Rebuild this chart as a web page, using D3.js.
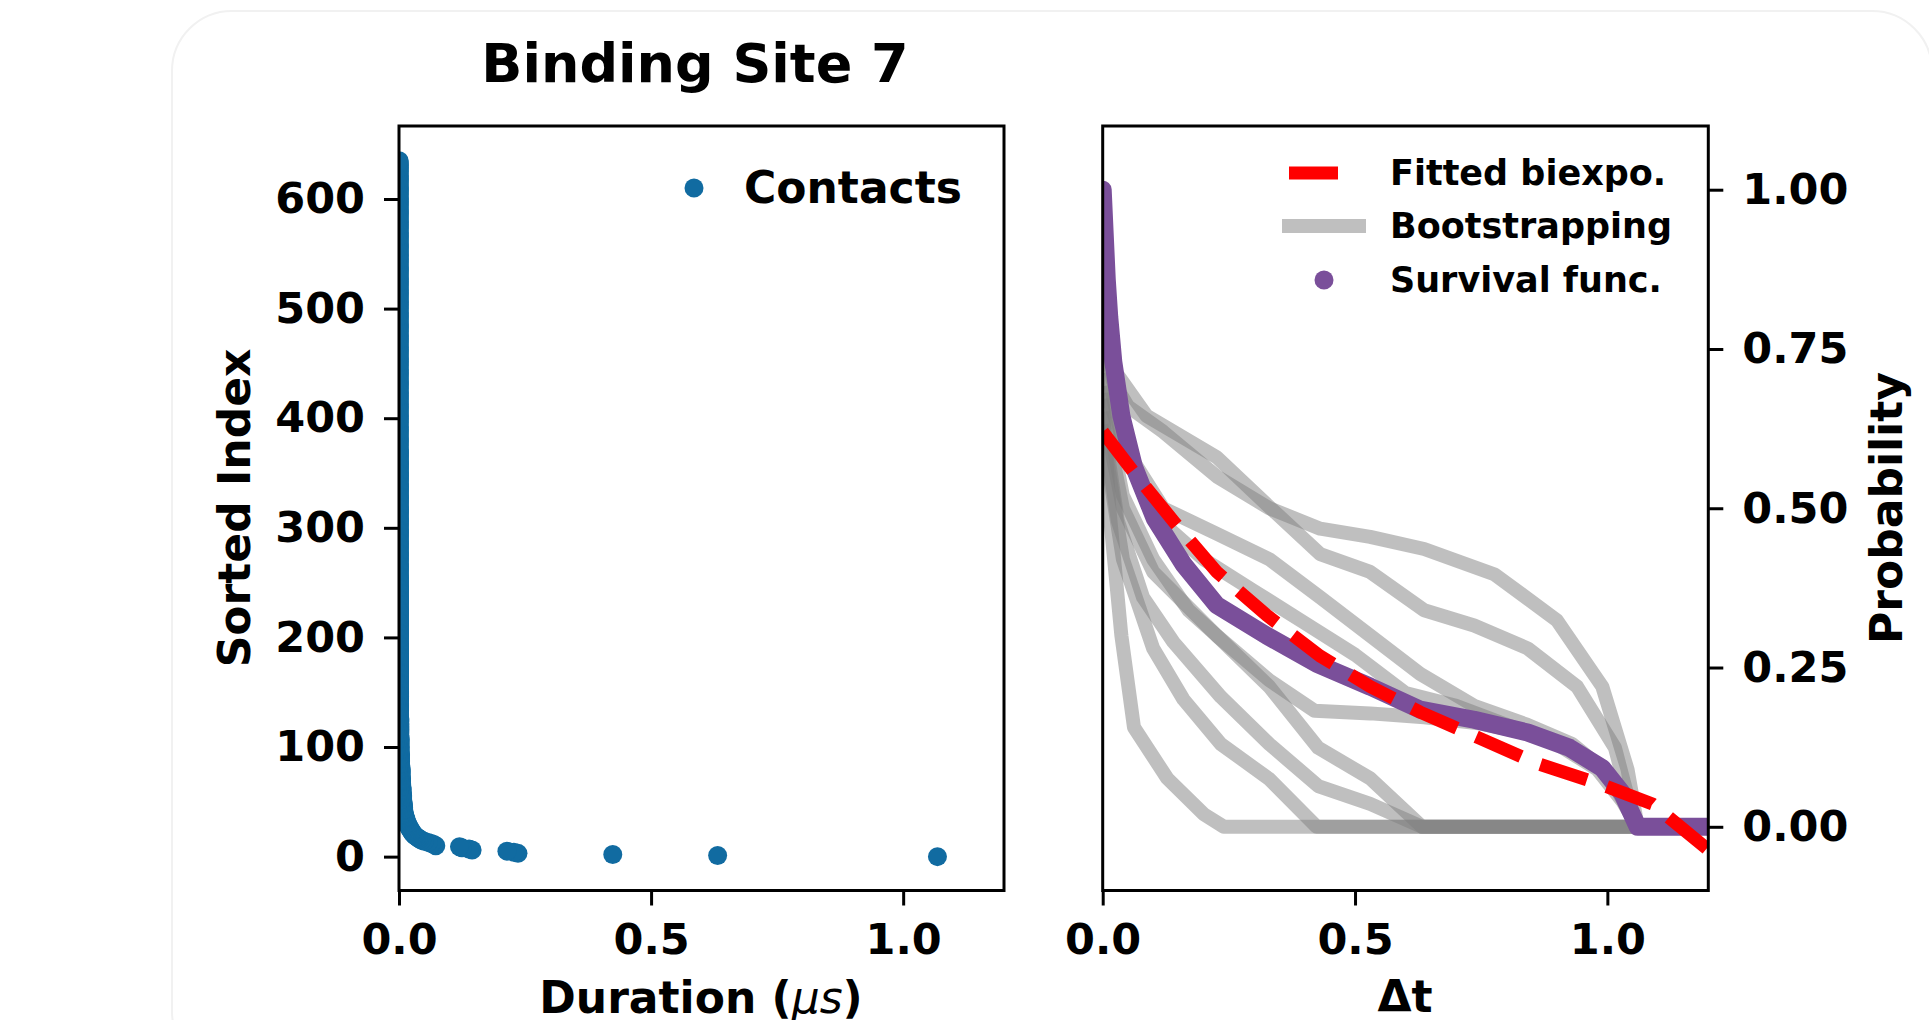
<!DOCTYPE html>
<html>
<head>
<meta charset="utf-8">
<script src="https://cdn.jsdelivr.net/npm/d3@7"></script>
<style>
  body { margin: 0; background: #ffffff; }
  text { font-family: "DejaVu Sans", sans-serif; font-weight: bold; fill: #000; }
</style>
</head>
<body>
<script>
// ---- data ----
// contact durations (us), largest first -> sorted index 0 at the bottom
var tailDurations = [1.068, 0.632, 0.424, 0.236, 0.228, 0.214, 0.145, 0.139, 0.125, 0.120,
  0.073, 0.069, 0.064, 0.058, 0.050, 0.045, 0.041, 0.038, 0.035, 0.032,
  0.030, 0.028, 0.026, 0.025, 0.024, 0.022, 0.021, 0.020, 0.019, 0.018];
// the short contacts, as value / how many of them
var bulkValues = [0.016, 0.014, 0.012, 0.010, 0.009, 0.008, 0.007, 0.006, 0.005, 0.004,
  0.003, 0.002, 0.0015, 0.001, 0.0008, 0.0006, 0.0004, 0.0002];
var bulkCounts = [2, 3, 3, 4, 4, 5, 6, 7, 8, 10, 12, 15, 18, 25, 40, 60, 120, 264];

// survival function (purple)
var survX = [0, 0.004, 0.008, 0.013, 0.021, 0.037, 0.062, 0.103, 0.160, 0.226, 0.325, 0.424,
  0.530, 0.629, 0.736, 0.842, 0.925, 0.990, 1.030, 1.060, 1.200];
var survY = [1.0, 0.93, 0.86, 0.80, 0.73, 0.645, 0.565, 0.484, 0.412, 0.348, 0.300, 0.256,
  0.220, 0.184, 0.168, 0.148, 0.124, 0.092, 0.052, 0.0, 0.0];

// fitted biexponential (red dashed)
var fitX = [0, 0.062, 0.144, 0.226, 0.325, 0.431, 0.530, 0.629, 0.744, 0.859, 0.982, 1.089, 1.200];
var fitY = [0.62, 0.556, 0.476, 0.400, 0.332, 0.268, 0.220, 0.180, 0.140, 0.100, 0.068, 0.036, -0.036];

// bootstrapped survival functions (gray)
var bootX = [
  [0, 0.02, 0.05, 0.12, 0.226, 0.33, 0.431, 0.53, 0.637, 0.777, 0.90, 0.99, 1.04, 1.06, 1.2],
  [0, 0.02, 0.087, 0.226, 0.333, 0.431, 0.53, 0.637, 0.736, 0.842, 0.94, 1.015, 1.056, 1.2],
  [0, 0.04, 0.12, 0.226, 0.33, 0.431, 0.53, 0.629, 0.736, 0.842, 0.93, 1.0, 1.06, 1.2],
  [0, 0.05, 0.10, 0.20, 0.30, 0.40, 0.50, 0.60, 0.70, 0.80, 0.90, 0.98, 1.03, 1.06, 1.2],
  [0, 0.04, 0.10, 0.17, 0.226, 0.33, 0.42, 0.53, 0.637, 0.75, 0.85, 0.93, 1.0, 1.04, 1.06, 1.2],
  [0, 0.04, 0.10, 0.226, 0.33, 0.427, 0.53, 0.633, 1.2],
  [0, 0.03, 0.08, 0.14, 0.234, 0.33, 0.427, 0.53, 0.633, 1.2],
  [0, 0.04, 0.10, 0.16, 0.234, 0.33, 0.424, 1.2],
  [0, 0.013, 0.037, 0.062, 0.128, 0.20, 0.24, 1.2]
];
var bootY = [
  [0.80, 0.70, 0.66, 0.62, 0.55, 0.50, 0.468, 0.455, 0.436, 0.396, 0.324, 0.22, 0.09, 0.0, 0.0],
  [0.85, 0.72, 0.645, 0.58, 0.50, 0.428, 0.40, 0.34, 0.316, 0.28, 0.22, 0.124, 0.0, 0.0],
  [0.75, 0.60, 0.50, 0.46, 0.42, 0.36, 0.30, 0.24, 0.19, 0.16, 0.13, 0.085, 0.0, 0.0],
  [0.70, 0.58, 0.49, 0.42, 0.37, 0.32, 0.27, 0.21, 0.19, 0.16, 0.13, 0.09, 0.04, 0.0, 0.0],
  [0.68, 0.52, 0.42, 0.34, 0.30, 0.23, 0.182, 0.178, 0.172, 0.162, 0.145, 0.12, 0.085, 0.04, 0.0, 0.0],
  [0.66, 0.50, 0.40, 0.30, 0.22, 0.124, 0.076, 0.0, 0.0],
  [0.64, 0.48, 0.36, 0.29, 0.204, 0.13, 0.064, 0.036, 0.0, 0.0],
  [0.62, 0.42, 0.28, 0.20, 0.13, 0.075, 0.0, 0.0],
  [0.67, 0.50, 0.30, 0.156, 0.076, 0.02, 0.0, 0.0]
];

// ---- layout ----
var W = 1929, H = 1020;
var plotTop = 126, plotBottom = 890.5;
var leftX0 = 399, leftX1 = 1004;
var rightX0 = 1102.7, rightX1 = 1708.3;
var tickFont = 43, labelFont = 44;
var blue = '#116ba1', purple = '#7a4f9a';

var svg = d3.select('body').append('svg')
  .attr('width', W)
  .attr('height', H);

// faint rounded frame round the figure
svg.append('rect')
  .attr('x', 172).attr('y', 11)
  .attr('width', 1760).attr('height', 1060)
  .attr('rx', 60)
  .style('fill', 'none')
  .style('stroke', '#f1f1f1')
  .style('stroke-width', 2);

var defs = svg.append('defs');
defs.append('clipPath').attr('id', 'clipL').append('rect')
  .attr('x', leftX0).attr('y', plotTop)
  .attr('width', leftX1 - leftX0).attr('height', plotBottom - plotTop);
defs.append('clipPath').attr('id', 'clipR').append('rect')
  .attr('x', rightX0).attr('y', plotTop)
  .attr('width', rightX1 - rightX0).attr('height', plotBottom - plotTop);

// ---- left panel: sorted contacts ----
var durations = tailDurations.slice();
bulkValues.forEach(function(v, i) {
  for (var k = 0; k < bulkCounts[i]; k++) durations.push(v);
});

var xL = d3.scaleLinear().domain([0, 1.2]).range([leftX0, leftX1]);
var yL = d3.scaleLinear().domain([-30.9, 666.6]).range([plotBottom, plotTop]);

svg.append('g')
  .attr('clip-path', 'url(#clipL)')
  .selectAll('circle')
  .data(durations)
  .enter()
  .append('circle')
    .attr('cx', function(d) { return xL(d); })
    .attr('cy', function(d, i) { return yL(i); })
    .attr('r', 9.5)
    .style('fill', blue);

// ---- right panel: survival ----
var xR = d3.scaleLinear().domain([0, 1.2]).range([rightX0, rightX1]);
var yR = d3.scaleLinear().domain([-0.1, 1.1]).range([plotBottom, plotTop]);
var lineR = d3.line()
  .x(function(d) { return xR(d[0]); })
  .y(function(d) { return yR(d[1]); });

var gR = svg.append('g').attr('clip-path', 'url(#clipR)');

gR.selectAll('path.boot')
  .data(bootX.map(function(xs, j) { return xs.map(function(x, i) { return [x, bootY[j][i]]; }); }))
  .enter()
  .append('path')
    .attr('class', 'boot')
    .attr('d', lineR)
    .style('fill', 'none')
    .style('stroke', '#808080')
    .style('stroke-opacity', 0.5)
    .style('stroke-width', 14)
    .style('stroke-linejoin', 'round')
    .style('stroke-linecap', 'square');

gR.append('path')
  .datum(survX.map(function(x, i) { return [x, survY[i]]; }))
  .attr('d', lineR)
  .style('fill', 'none')
  .style('stroke', purple)
  .style('stroke-width', 18)
  .style('stroke-linejoin', 'round')
  .style('stroke-linecap', 'round');

gR.append('path')
  .datum(fitX.map(function(x, i) { return [x, fitY[i]]; }))
  .attr('d', lineR)
  .style('fill', 'none')
  .style('stroke', 'red')
  .style('stroke-width', 13)
  .style('stroke-dasharray', '49,21');

// ---- frames and axes ----
[[leftX0, leftX1], [rightX0, rightX1]].forEach(function(p) {
  svg.append('rect')
    .attr('x', p[0]).attr('y', plotTop)
    .attr('width', p[1] - p[0]).attr('height', plotBottom - plotTop)
    .style('fill', 'none')
    .style('stroke', '#000')
    .style('stroke-width', 3);
});

function styleAxis(g) {
  g.select('.domain').remove();
  g.selectAll('.tick line').style('stroke', '#000').style('stroke-width', 3);
  g.selectAll('.tick text')
    .style('font-family', '"DejaVu Sans", sans-serif')
    .style('font-weight', 'bold')
    .style('font-size', tickFont + 'px')
    .style('fill', '#000');
}

svg.append('g')
  .attr('transform', 'translate(' + leftX0 + ',0)')
  .call(d3.axisLeft(yL).tickValues([0, 100, 200, 300, 400, 500, 600])
    .tickFormat(d3.format('d')).tickSize(15).tickPadding(19))
  .call(styleAxis);

svg.append('g')
  .attr('transform', 'translate(0,' + plotBottom + ')')
  .call(d3.axisBottom(xL).tickValues([0, 0.5, 1.0])
    .tickFormat(d3.format('.1f')).tickSize(15).tickPadding(18))
  .call(styleAxis);

svg.append('g')
  .attr('transform', 'translate(0,' + plotBottom + ')')
  .call(d3.axisBottom(xR).tickValues([0, 0.5, 1.0])
    .tickFormat(d3.format('.1f')).tickSize(15).tickPadding(18))
  .call(styleAxis);

svg.append('g')
  .attr('transform', 'translate(' + rightX1 + ',0)')
  .call(d3.axisRight(yR).tickValues([0, 0.25, 0.5, 0.75, 1.0])
    .tickFormat(d3.format('.2f')).tickSize(15).tickPadding(19))
  .call(styleAxis);

// ---- texts ----
svg.append('text')
  .attr('x', 695).attr('y', 82)
  .attr('text-anchor', 'middle')
  .style('font-size', '54px')
  .text('Binding Site 7');

svg.append('text')
  .attr('transform', 'translate(250,508) rotate(-90)')
  .attr('text-anchor', 'middle')
  .style('font-size', labelFont + 'px')
  .text('Sorted Index');

svg.append('text')
  .attr('transform', 'translate(1902,508) rotate(-90)')
  .attr('text-anchor', 'middle')
  .style('font-size', labelFont + 'px')
  .text('Probability');

var dur = svg.append('text')
  .attr('x', 701).attr('y', 1013)
  .attr('text-anchor', 'middle')
  .style('font-size', labelFont + 'px');
dur.append('tspan').text('Duration (');
dur.append('tspan').style('font-style', 'italic').style('font-weight', 'normal').text('\u03bcs');
dur.append('tspan').text(')');

svg.append('text')
  .attr('x', 1405).attr('y', 1012)
  .attr('text-anchor', 'middle')
  .style('font-size', labelFont + 'px')
  .text('\u0394t');

// ---- legends ----
svg.append('circle').attr('cx', 694).attr('cy', 188).attr('r', 9.5).style('fill', blue);
svg.append('text').attr('x', 744).attr('y', 203)
  .style('font-size', labelFont + 'px').text('Contacts');

var legItems = ['Fitted biexpo.', 'Bootstrapping', 'Survival func.'];
var legY = [173, 226, 280];
svg.append('line')
  .attr('x1', 1289).attr('x2', 1359).attr('y1', legY[0]).attr('y2', legY[0])
  .style('stroke', 'red').style('stroke-width', 13).style('stroke-dasharray', '49,21');
svg.append('line')
  .attr('x1', 1289).attr('x2', 1359).attr('y1', legY[1]).attr('y2', legY[1])
  .style('stroke', '#808080').style('stroke-opacity', 0.5)
  .style('stroke-width', 14).style('stroke-linecap', 'square');
svg.append('circle').attr('cx', 1324).attr('cy', legY[2]).attr('r', 9.5).style('fill', purple);
svg.selectAll('text.leg')
  .data(legItems)
  .enter()
  .append('text')
    .attr('class', 'leg')
    .attr('x', 1390)
    .attr('y', function(d, i) { return legY[i] + 12; })
    .style('font-size', '35px')
    .text(function(d) { return d; });
</script>
</body>
</html>
